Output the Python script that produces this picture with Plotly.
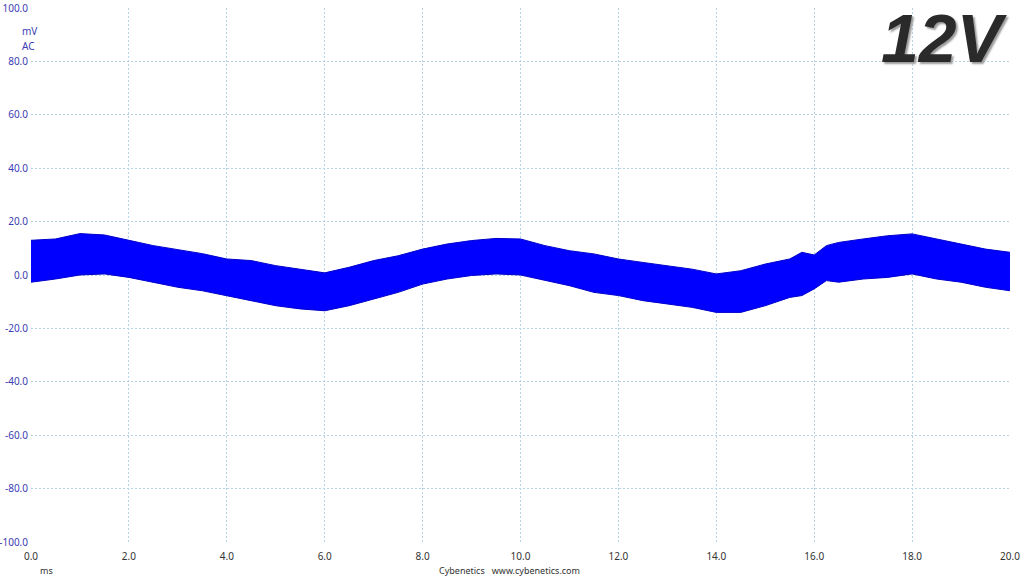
import plotly.graph_objects as go

# tempo (ms) e envoltória do ripple (mV)
tempo = [0.0, 0.5, 1.0, 1.5, 2.0, 2.5, 3.0, 3.5, 4.0, 4.5, 5.0, 5.5, 6.0, 6.5, 7.0,
         7.5, 8.0, 8.5, 9.0, 9.5, 10.0, 10.5, 11.0, 11.5, 12.0, 12.5, 13.0, 13.5,
         14.0, 14.5, 15.0, 15.5, 15.75, 16.0, 16.25, 16.5, 17.0, 17.5, 18.0, 18.5,
         19.0, 19.5, 20.0]
superior = [13.0, 13.5, 15.5, 15.0, 13.0, 11.0, 9.5, 8.0, 6.0, 5.4, 3.5, 2.2, 0.8,
            2.9, 5.4, 7.2, 9.7, 11.6, 12.9, 13.7, 13.5, 11.0, 9.1, 7.9, 6.0, 4.7,
            3.5, 2.2, 0.4, 1.6, 4.1, 6.0, 8.5, 7.5, 11.0, 12.2, 13.5, 14.7, 15.4,
            13.5, 11.6, 9.7, 8.5]
inferior = [-2.7, -1.5, 0.0, 0.4, -0.9, -2.7, -4.6, -5.9, -7.7, -9.6, -11.5, -12.7,
            -13.4, -11.5, -9.0, -6.5, -3.4, -1.5, -0.2, 0.4, 0.0, -2.1, -4.0, -6.5,
            -7.7, -9.6, -10.9, -12.1, -14.0, -14.0, -11.5, -8.4, -7.7, -5.2, -2.1,
            -2.7, -1.5, -0.9, 0.4, -1.5, -2.7, -4.6, -5.9]

x_ticks = [0, 2, 4, 6, 8, 10, 12, 14, 16, 18, 20]
y_ticks = [-100, -80, -60, -40, -20, 0, 20, 40, 60, 80, 100]

azul = '#0000ff'
azul_txt = '#3c3cb4'
grade = '#b4d4e4'
fonte = 'Noto Sans, sans-serif'

fig = go.Figure()
fig.add_trace(go.Scatter(x=tempo, y=superior, mode='lines',
                         line=dict(color='#0000cc', width=1), showlegend=False))
fig.add_trace(go.Scatter(x=tempo, y=inferior, mode='lines', fill='tonexty',
                         fillcolor=azul, line=dict(color='#0000cc', width=1),
                         showlegend=False))

fig.update_layout(
    width=1024, height=576,
    margin=dict(l=31, r=14, t=8, b=34),
    plot_bgcolor='white', paper_bgcolor='white',
    font=dict(family=fonte, size=10, color='#333333'),
    xaxis=dict(range=[0, 20], tickvals=x_ticks,
               ticktext=['%.1f' % v for v in x_ticks], automargin=False,
               showgrid=True, gridcolor=grade, griddash='2px,2px', gridwidth=1,
               zeroline=False, showline=False, ticks='', ticklabelstandoff=7,
               tickfont=dict(color='#333333', size=10)),
    yaxis=dict(range=[-100, 100], tickvals=y_ticks,
               ticktext=['%.1f' % v for v in y_ticks], automargin=False,
               showgrid=True, gridcolor=grade, griddash='2px,2px', gridwidth=1,
               zeroline=False, showline=False, ticks='', ticklabelstandoff=2,
               tickfont=dict(color=azul_txt, size=10)),
)

fig.add_annotation(text='mV', xref='paper', yref='paper', x=-0.011, y=0.974,
                   showarrow=False, font=dict(color=azul_txt, size=10))
fig.add_annotation(text='AC', xref='paper', yref='paper', x=-0.011, y=0.946,
                   showarrow=False, font=dict(color=azul_txt, size=10))
fig.add_annotation(text='ms', xref='paper', yref='paper', x=0.007, y=-0.053,
                   yanchor='middle', showarrow=False,
                   font=dict(color='#333333', size=9))
fig.add_annotation(text='Cybenetics&nbsp;&nbsp;&nbsp;www.cybenetics.com',
                   xref='paper', yref='paper', x=0.489, y=-0.053,
                   yanchor='middle', showarrow=False,
                   font=dict(color='#333333', size=9))
fig.add_annotation(text='12V', xref='paper', yref='paper', x=1.0, y=0.943,
                   xanchor='right', yanchor='middle', showarrow=False,
                   font=dict(family='Liberation Sans, Arial, sans-serif', size=68,
                             color='#2a2a2a', weight='bold', style='italic',
                             shadow='2px 2px 2px #9a9a9a'))

# tira a margem padrão da página para o gráfico ocupar a janela inteira
fig.write_html("out.html", config={'displayModeBar': False},
               post_script="document.body.style.margin='0px';")
